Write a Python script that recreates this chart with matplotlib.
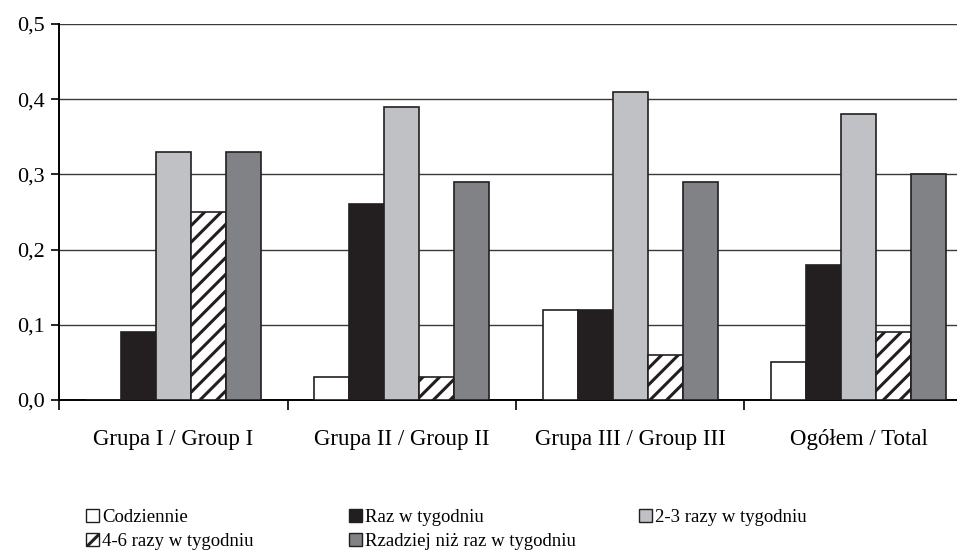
import numpy as np
import matplotlib
matplotlib.use('Agg')
import matplotlib.pyplot as plt
from matplotlib.patches import Patch

# Daten
grupy = ['Grupa I / Group I', 'Grupa II / Group II', 'Grupa III / Group III', 'Ogółem / Total']
serie = ['Codziennie', 'Raz w tygodniu', '2-3 razy w tygodniu',
         '4-6 razy w tygodniu', 'Rzadziej niż raz w tygodniu']
codziennie = [0.00, 0.03, 0.12, 0.05]
raz_w_tygodniu = [0.09, 0.26, 0.12, 0.18]
razy_2_3 = [0.33, 0.39, 0.41, 0.38]
razy_4_6 = [0.25, 0.03, 0.06, 0.09]
rzadziej = [0.33, 0.29, 0.29, 0.30]
y_ticks = [0.0, 0.1, 0.2, 0.3, 0.4, 0.5]
y_labels = ['0,0', '0,1', '0,2', '0,3', '0,4', '0,5']

werte = [codziennie, raz_w_tygodniu, razy_2_3, razy_4_6, rzadziej]
farben = ['white', '#231f20', '#c0c1c4', 'white', '#808285']
hatches = [None, None, None, '//', None]

plt.rcParams['font.family'] = ['Liberation Serif', 'DejaVu Serif']
plt.rcParams['hatch.linewidth'] = 2.2
plt.rcParams['hatch.color'] = '#231f20'

fig = plt.figure(figsize=(9.57, 5.53), dpi=100)
# Achse reicht rechts über das Bild hinaus (Original ist abgeschnitten)
ax = fig.add_axes([59/957, 153/553, 914/957, 376/553])

x = np.arange(len(grupy))
b = 0.153
for i, (w, f, h) in enumerate(zip(werte, farben, hatches)):
    ax.bar(x + (i - 2) * b, w, width=b, color=f, edgecolor='#231f20',
           linewidth=1.2, hatch=h, zorder=3)

ax.set_xlim(-0.5, len(grupy) - 0.5)
ax.set_ylim(0, 0.5)
ax.set_yticks(y_ticks)
ax.set_yticklabels(y_labels, fontsize=16)
ax.tick_params(axis='y', length=6, width=1.2, pad=4)

# Kategorien ohne Striche, Striche an den Gruppengrenzen
ax.set_xticks(x)
ax.set_xticklabels(grupy, fontsize=16.5)
ax.tick_params(axis='x', which='major', length=0, pad=21)
ax.set_xticks(np.arange(len(grupy) + 1) - 0.5, minor=True)
ax.tick_params(axis='x', which='minor', length=7, width=1.2)

for y in y_ticks[1:]:
    ax.axhline(y, color='#3a3a3a', linewidth=1.0, zorder=1)

for s in ['top', 'right']:
    ax.spines[s].set_visible(False)
ax.spines['left'].set_linewidth(1.4)
ax.spines['bottom'].set_linewidth(1.4)

handles = [Patch(facecolor=f, edgecolor='#231f20', hatch=h, linewidth=1.0)
           for f, h in zip(farben, hatches)]

# Legende spaltenweise an festen Positionen (wie im Original)
spalten = [[0, 3], [1, 4], [2]]
spalten_x = [78, 341, 631]
for idx, sx in zip(spalten, spalten_x):
    fig.legend([handles[k] for k in idx], [serie[k] for k in idx],
               loc='upper left', bbox_to_anchor=(sx/957, 1 - 501/553),
               frameon=False, fontsize=13.5, handlelength=0.7, handleheight=0.7,
               handletextpad=0.2, labelspacing=0.4, borderaxespad=0)

fig.savefig('out.png', dpi=100)
